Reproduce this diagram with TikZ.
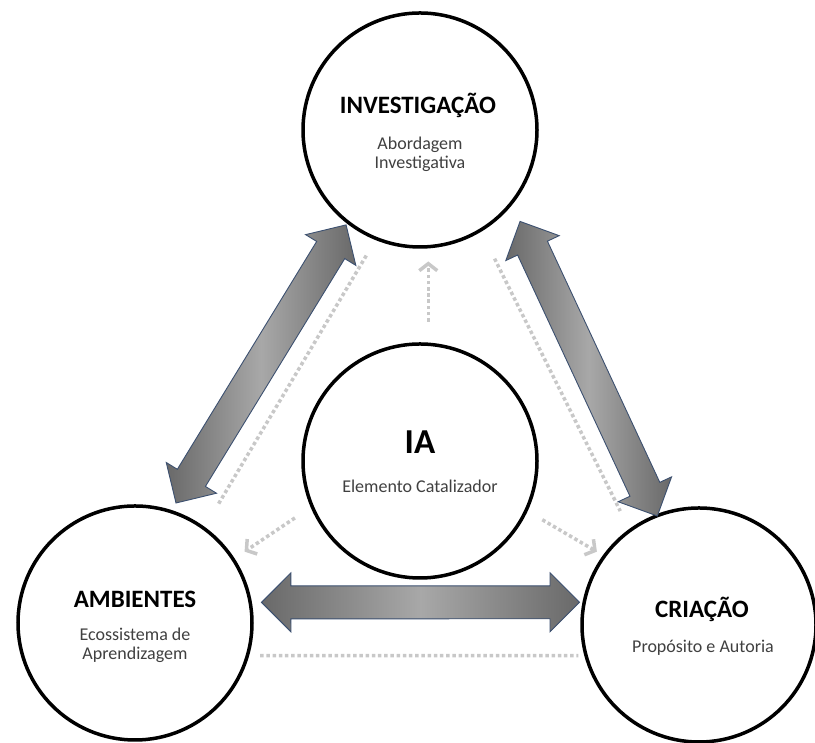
\documentclass[tikz,border=0pt]{standalone}
\usepackage{fontspec}
\setmainfont{Carlito}
\usepackage{tikz}
\usetikzlibrary{shapes.arrows,arrows.meta,positioning,calc}
\definecolor{mydarkgray}{RGB}{105,105,105}
\definecolor{mylightgray}{RGB}{168,168,168}
\definecolor{mydotgray}{RGB}{200,200,200}
\definecolor{myslate}{RGB}{60,80,112}
\definecolor{mysubtext}{RGB}{64,64,64}
\tikzstyle{topic}=[draw,fill=white,circle,line width=3.5pt,minimum size=234pt,inner sep=0pt]
\tikzstyle{title}=[font=\bfseries\fontsize{25}{30}\selectfont,anchor=base,inner sep=0pt]
\tikzstyle{subtitle}=[font=\fontsize{18}{19}\selectfont,text=mysubtext,align=center,anchor=base,inner sep=0pt]
\tikzstyle{bigarrow}=[double arrow,draw=myslate,line width=0.9pt,left color=mydarkgray,right color=mydarkgray,middle color=mylightgray,double arrow head extend=13pt,double arrow tip angle=90,inner xsep=0pt,inner ysep=16pt,sloped]
\tikzstyle{faint}=[draw=mydotgray,line width=3.5pt,dash pattern=on 3.5pt off 2.7pt]
\tikzstyle{faintarrow}=[faint,-{Straight Barb[length=7pt,width=18pt]}]

\begin{document}
\begin{tikzpicture}[x=1pt,y=1pt]
\useasboundingbox (0,0) rectangle (815,743);
\draw (420, 613) node [topic] (inv) {};
\draw (420, 282) node [topic] (ia) {};
\draw (135, 120) node [topic] (amb) {};
\draw (699, 118) node [topic] (cri) {};
\node [title] (invtitle) at ([xshift=-2pt,yshift=16pt]inv.center) {INVESTIGAÇÃO};
\node [subtitle] (invtext) at ([yshift=-39pt]inv.center) {Abordagem\\Investigativa};
\node [title,font=\bfseries\fontsize{35}{40}\selectfont] (iatitle) at ([yshift=7pt]ia.center) {IA};
\node [subtitle] (iatext) at ([yshift=-32pt]ia.center) {Elemento Catalizador};
\node [title] (ambtitle) at ([yshift=15pt]amb.center) {AMBIENTES};
\node [subtitle] (ambtext) at ([yshift=-37pt]amb.center) {Ecossistema de\\Aprendizagem};
\node [title] (crititle) at ([xshift=3pt,yshift=7pt]cri.center) {CRIAÇÃO};
\node [subtitle] (critext) at ([xshift=4pt,yshift=-28pt]cri.center) {Propósito e Autoria};
\path (inv.232) -- (amb.72) node [bigarrow, pos=.49, minimum height=326pt] (invamb) {};
\path (inv.321) -- (cri.111) node [bigarrow, pos=.53, minimum height=325pt] (invcri) {};
\path (amb.10) -- (cri.169) node [bigarrow, pos=.51, minimum height=318pt] (ambcri) {};
\draw [faintarrow, shorten <=21pt, shorten >=13pt] (ia.86) -- (inv.274);
\draw [faintarrow, shorten <=19pt, shorten >=12pt] (ia.203) -- (amb.33);
\draw [faintarrow, shorten <=17pt, shorten >=7pt] (ia.335) -- (cri.144);
\draw [faint, shorten <=18pt, shorten >=27pt] (inv.248) -- (amb.54);
\draw [faint, shorten <=30pt, shorten >=20pt] (inv.301) -- (cri.126);
\draw [faint, shorten <=11pt, shorten >=6pt] (amb.344) -- (cri.195);
\end{tikzpicture}
\end{document}
